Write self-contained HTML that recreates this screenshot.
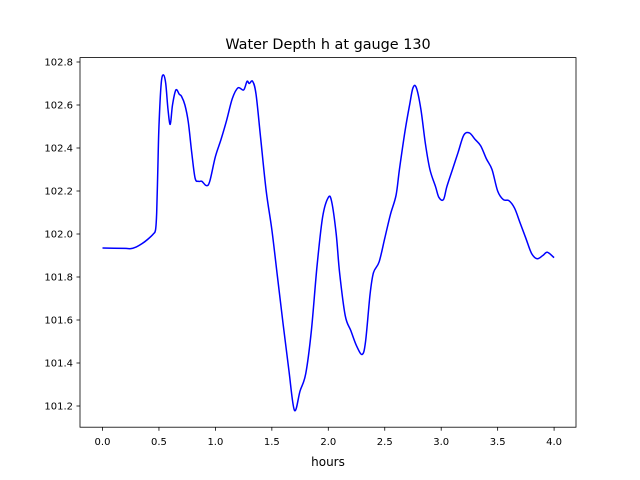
<!DOCTYPE html>
<html><head><meta charset="utf-8"><style>body{margin:0;background:#fff}svg{display:block;font-family:"DejaVu Sans","Liberation Sans",sans-serif}</style></head>
<body>
<svg id="chart" width="640" height="480" viewBox="0 0 640 480">
<rect x="0" y="0" width="640" height="480" fill="#fff"/>
<text x="328" y="49" font-size="14.4" text-anchor="middle">Water Depth h at gauge 130</text>
<g id="plot"></g>
<rect x="80" y="57.6" width="496" height="369.6" fill="none" stroke="#000" stroke-width="0.8"/>
<text x="328" y="466" font-size="12" text-anchor="middle">hours</text>
</svg>
<script>
const xs=[0,0.2,0.25,0.3,0.35,0.4,0.45,0.47,0.48,0.49,0.5,0.52,0.54,0.56,0.58,0.6,0.62,0.65,0.68,0.7,0.73,0.76,0.79,0.82,0.85,0.88,0.92,0.95,1.0,1.05,1.1,1.15,1.2,1.25,1.28,1.3,1.33,1.36,1.4,1.45,1.5,1.55,1.6,1.65,1.7,1.75,1.8,1.85,1.9,1.95,2.0,2.03,2.07,2.1,2.15,2.2,2.25,2.3,2.33,2.37,2.4,2.45,2.5,2.55,2.6,2.63,2.68,2.72,2.75,2.78,2.82,2.86,2.9,2.95,2.98,3.02,3.05,3.1,3.15,3.2,3.25,3.3,3.35,3.4,3.45,3.5,3.55,3.6,3.65,3.7,3.75,3.8,3.85,3.9,3.94,4.0];
const ys=[101.935,101.933,101.932,101.94,101.955,101.975,102.0,102.02,102.1,102.3,102.5,102.7,102.74,102.7,102.58,102.51,102.6,102.67,102.65,102.64,102.6,102.52,102.38,102.26,102.245,102.245,102.225,102.245,102.36,102.44,102.53,102.63,102.68,102.67,102.71,102.7,102.71,102.65,102.45,102.2,102.02,101.8,101.58,101.37,101.18,101.27,101.35,101.55,101.85,102.08,102.17,102.15,102.0,101.82,101.62,101.55,101.48,101.44,101.5,101.72,101.82,101.87,101.98,102.09,102.18,102.3,102.48,102.6,102.68,102.68,102.58,102.42,102.3,102.22,102.17,102.16,102.22,102.3,102.38,102.46,102.47,102.44,102.41,102.35,102.3,102.2,102.16,102.155,102.12,102.05,101.98,101.91,101.885,101.9,101.915,101.89];
const xTicks=[0,0.5,1.0,1.5,2.0,2.5,3.0,3.5,4.0];
const yTicks=[101.2,101.4,101.6,101.8,102.0,102.2,102.4,102.6,102.8];
const X=v=>102.5+v*112.9;
const Y=v=>62+(102.8-v)*215;
const NS="http://www.w3.org/2000/svg";
const g=document.getElementById('plot');
function mk(t,a){const e=document.createElementNS(NS,t);for(const k in a)e.setAttribute(k,a[k]);g.appendChild(e);return e;}
xTicks.forEach(t=>{
  const l=mk('line',{x1:X(t),x2:X(t),y1:427.2,y2:430.7,stroke:'#000','stroke-width':0.8});
  
  
  const s=mk('text',{x:X(t),y:445,'font-size':10,'text-anchor':'middle'});
  s.textContent=t.toFixed(1);
  
  
});
yTicks.forEach(t=>{
  const l=mk('line',{x1:76.5,x2:80,y1:Y(t),y2:Y(t),stroke:'#000','stroke-width':0.8});
  
  
  const s=mk('text',{x:73,y:Y(t)+3.6,'font-size':10,'text-anchor':'end'});
  s.textContent=t.toFixed(1);
  
  
});
const P=xs.map((v,i)=>[X(v),Y(ys[i])]);
let d='M'+P[0][0]+','+P[0][1];
for(let i=0;i<P.length-1;i++){
  const p0=P[Math.max(0,i-1)],p1=P[i],p2=P[i+1],p3=P[Math.min(P.length-1,i+2)];
  const c1=[p1[0]+(p2[0]-p0[0])/6,p1[1]+(p2[1]-p0[1])/6];
  const c2=[p2[0]-(p3[0]-p1[0])/6,p2[1]-(p3[1]-p1[1])/6];
  d+=' C'+c1[0]+','+c1[1]+' '+c2[0]+','+c2[1]+' '+p2[0]+','+p2[1];
}
const line=mk('path',{d:d,fill:'none',stroke:'#0000ff','stroke-width':1.5,'stroke-linejoin':'round'});


</script>
</body></html>
